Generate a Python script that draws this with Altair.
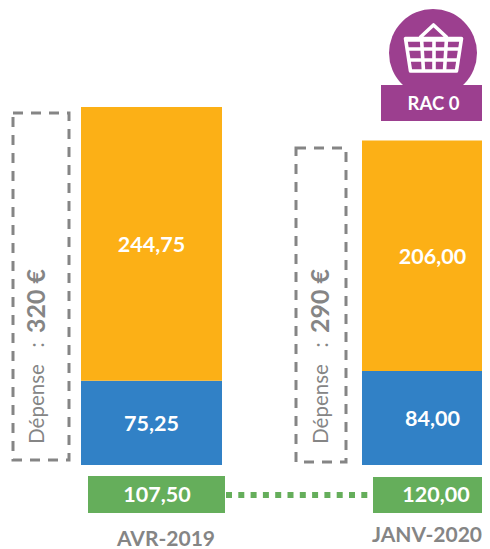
import altair as alt
import pandas as pd

# --- data ---
periods = ["AVR-2019", "JANV-2020"]
part_blue = [75.25, 84.00]
part_orange = [244.75, 206.00]
green_values = ["107,50", "120,00"]
totals = ["320 €", "290 €"]
badge_text = "RAC 0"

COL_ORANGE = "#FCB016"
COL_BLUE = "#3181C6"
COL_GREEN = "#65AE5B"
COL_PURPLE = "#9C3F8F"
COL_GRAY = "#858585"
FONT = "Lato"
OX, OY = 8, 8  # page margin: layout below is given in picture pixels


def fr(v):
    return f"{v:.2f}".replace(".", ",")


rows = []
for i, p in enumerate(periods):
    rows.append(dict(period=p, part="a", value=part_blue[i], y0=0, y1=part_blue[i]))
    rows.append(dict(period=p, part="b", value=part_orange[i], y0=part_blue[i], y1=part_blue[i] + part_orange[i]))
bars_df = pd.DataFrame(rows)
bars_df["mid"] = (bars_df.y0 + bars_df.y1) / 2
bars_df["label"] = bars_df.value.map(fr)

x_band = alt.Scale(type="band", domain=periods, range=[81 - OX, 503 - OX], paddingInner=140 / 281, paddingOuter=0)
y_lin = alt.Scale(domain=[0, 320], range=[465 - OY, 107 - OY])

bars = alt.Chart(bars_df).mark_bar().encode(
    x=alt.X("period:N", scale=x_band, axis=None),
    y=alt.Y("y0:Q", scale=y_lin, axis=None),
    y2="y1:Q",
    color=alt.Color("part:N", scale=alt.Scale(domain=["a", "b"], range=[COL_BLUE, COL_ORANGE]), legend=None),
)
bar_labels = alt.Chart(bars_df).mark_text(
    font=FONT, fontWeight="bold", fontSize=21.5, color="white", baseline="middle", align="center", dy=2
).encode(
    x=alt.X("period:N", scale=x_band, axis=None, bandPosition=0.5),
    y=alt.Y("mid:Q", scale=y_lin, axis=None),
    text="label:N",
)


def px(df):
    out = df.copy()
    for c in out.columns:
        if c in ("x", "x2"):
            out[c] = out[c] - OX
        if c in ("y", "y2"):
            out[c] = out[c] - OY
    return out


def X(f="x"):
    return alt.X(f"{f}:Q", scale=None, axis=None)


def Y(f="y"):
    return alt.Y(f"{f}:Q", scale=None, axis=None)


def rects(df, **mark):
    return alt.Chart(px(df)).mark_rect(**mark).encode(x=X(), x2="x2:Q", y=Y(), y2="y2:Q")


def texts(df, **mark):
    kw = dict(font=FONT, baseline="middle", align="center")
    kw.update(mark)
    return alt.Chart(px(df)).mark_text(**kw).encode(x=X(), y=Y(), text="t:N")


# dashed "Dépense" frames
frames = rects(
    pd.DataFrame(dict(x=[13, 296], x2=[69, 346], y=[113, 148], y2=[460, 462])),
    fillOpacity=0, stroke=COL_GRAY, strokeWidth=3, strokeDash=[10, 8],
)
dep = texts(
    pd.DataFrame(dict(x=[38, 322], y=[404, 404], t=["Dépense", "Dépense"])),
    fontSize=20.5, color=COL_GRAY, angle=270,
)
colon = texts(
    pd.DataFrame(dict(x=[38, 322], y=[345, 345], t=[":", ":"])),
    fontSize=20.5, color=COL_GRAY, angle=270,
)
tot = texts(
    pd.DataFrame(dict(x=[37, 321], y=[301, 301], t=totals)),
    fontSize=25, fontWeight="bold", color=COL_GRAY, angle=270,
)

# green row
dots = alt.Chart(px(pd.DataFrame(dict(x=[226, 373], y=[495, 495])))).mark_line(
    color=COL_GREEN, strokeWidth=6, strokeDash=[6, 6.3]
).encode(x=X(), y=Y())
green = rects(pd.DataFrame(dict(x=[88, 373], x2=[225, 498], y=[476, 477], y2=[513, 513])), color=COL_GREEN)
green_t = texts(
    pd.DataFrame(dict(x=[157, 436], y=[496, 496], t=green_values)),
    fontSize=21.5, fontWeight="bold", color="white",
)
cats = texts(
    pd.DataFrame(dict(x=[166, 427], y=[540, 536], t=periods)),
    fontSize=21, fontWeight="bold", color=COL_GRAY,
)

# badge
circle = alt.Chart(px(pd.DataFrame(dict(x=[433], y=[53])))).mark_point(
    shape="circle", filled=True, opacity=1, color=COL_PURPLE, size=88 * 88
).encode(x=X(), y=Y())
badge_r = rects(pd.DataFrame(dict(x=[381], x2=[486], y=[85], y2=[121])), color=COL_PURPLE)
badge_t = texts(
    pd.DataFrame(dict(x=[433.5], y=[104], t=[badge_text])),
    fontSize=18.5, fontWeight="bold", color="white",
)


def P(x, y):
    return f"{x / 60:.4f},{y / 60:.4f}"


basket_path = (
    "M" + P(-13.5, -10.5) + "L" + P(0, -23) + "L" + P(13.5, -10.5)
    + "M" + P(-28, -9.5) + "L" + P(28, -9.5) + "L" + P(23, 23) + "L" + P(-23, 23) + "Z"
    + "M" + P(-28, -8) + "L" + P(28, -8)
    + "M" + P(-27, 1) + "L" + P(27, 1)
    + "M" + P(-25, 12) + "L" + P(25, 12)
    + "M" + P(-12, -9.5) + "L" + P(-10, 23)
    + "M" + P(0.5, -9.5) + "L" + P(0.5, 23)
    + "M" + P(13, -9.5) + "L" + P(11, 23)
)
basket = alt.Chart(px(pd.DataFrame(dict(x=[433.5], y=[48])))).mark_point(
    shape=basket_path, filled=False, opacity=1, color="white", strokeWidth=3.6, size=14400,
    strokeJoin="round",
).encode(x=X(), y=Y())

chart = alt.layer(
    bars, bar_labels, frames, dep, colon, tot, dots, green, green_t, cats,
    circle, badge_r, badge_t, basket,
).resolve_scale(x="independent", y="independent", color="independent").properties(
    width=474, height=541, padding=0, autosize=alt.AutoSizeParams(type="none"),
).configure_view(stroke=None)

chart.save("out.html", embed_options={"renderer": "svg", "actions": False})
